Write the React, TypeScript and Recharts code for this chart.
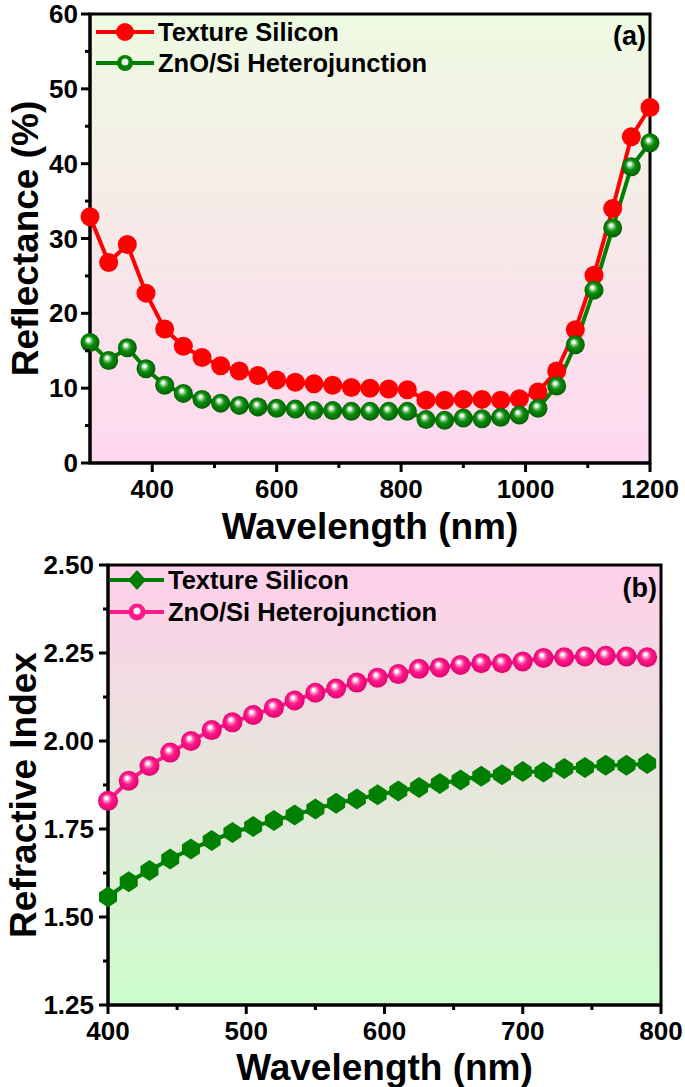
import React from "react";
import { LineChart, Line, XAxis, YAxis, ReferenceArea, Label } from "recharts";

// (a) reflectance
const wavelengthA = [
  300, 330, 360, 390, 420, 450, 480, 510, 540, 570, 600, 630, 660, 690, 720, 750,
  780, 810, 840, 870, 900, 930, 960, 990, 1020, 1050, 1080, 1110, 1140, 1170, 1200,
];
const textureA = [
  32.9, 26.8, 29.2, 22.7, 17.9, 15.6, 14.1, 13.0, 12.3, 11.7, 11.1, 10.8, 10.6, 10.4, 10.1, 10.0,
  9.9, 9.8, 8.4, 8.4, 8.5, 8.5, 8.4, 8.6, 9.5, 12.3, 17.8, 25.1, 34.0, 43.6, 47.5,
];
const znoA = [
  16.1, 13.7, 15.4, 12.6, 10.4, 9.3, 8.5, 8.0, 7.7, 7.5, 7.3, 7.2, 7.0, 7.0, 6.9, 6.9,
  6.9, 6.9, 5.8, 5.7, 6.0, 5.9, 6.1, 6.4, 7.3, 10.3, 15.8, 23.1, 31.4, 39.6, 42.8,
];

// (b) refractive index
const wavelengthB = [
  400, 415, 430, 445, 460, 475, 490, 505, 520, 535, 550, 565, 580, 595, 610, 625,
  640, 655, 670, 685, 700, 715, 730, 745, 760, 775, 790,
];
const textureB = [
  1.557, 1.6, 1.632, 1.665, 1.693, 1.717, 1.74, 1.757, 1.774, 1.79, 1.807, 1.823, 1.835, 1.847, 1.858, 1.868,
  1.879, 1.889, 1.9, 1.904, 1.913, 1.912, 1.922, 1.925, 1.931, 1.931, 1.936,
];
const znoB = [
  1.83, 1.887, 1.929, 1.967, 2.0, 2.031, 2.053, 2.074, 2.094, 2.115, 2.137, 2.149, 2.166, 2.18, 2.19, 2.205,
  2.209, 2.216, 2.221, 2.221, 2.226, 2.236, 2.238, 2.24, 2.242, 2.24, 2.238,
];

const reflTicks = [0, 10, 20, 30, 40, 50, 60];
const reflMinor = [5, 15, 25, 35, 45, 55];
const wlTicksA = [400, 600, 800, 1000, 1200];
const wlMinorA = [500, 700, 900, 1100];
const riTicks = [1.25, 1.5, 1.75, 2.0, 2.25, 2.5];
const riMinor = [1.375, 1.625, 1.875, 2.125, 2.375];
const wlTicksB = [400, 500, 600, 700, 800];
const wlMinorB = [450, 550, 650, 750];

const dataA = wavelengthA.map((w, i) => ({ w, texture: textureA[i], zno: znoA[i] }));
const dataB = wavelengthB.map((w, i) => ({ w, texture: textureB[i], zno: znoB[i] }));

const FONT = "'Liberation Sans', Arial, Helvetica, sans-serif";

function xTick(majors: number[], labelDy: number) {
  return (props: any) => {
    const { x, y, payload } = props;
    const major = majors.includes(payload.value);
    return (
      <g>
        <line x1={x} x2={x} y1={y} y2={y + (major ? 9 : 5)} stroke="#000" strokeWidth={3} />
        {major && (
          <text x={x} y={y + labelDy} textAnchor="middle" fontFamily={FONT} fontWeight="bold" fontSize={26} fill="#000">
            {payload.value}
          </text>
        )}
      </g>
    );
  };
}

function yTick(majors: number[], gap: number, fmt: (v: number) => string) {
  return (props: any) => {
    const { x, y, payload } = props;
    const major = majors.includes(payload.value);
    return (
      <g>
        <line x1={x} x2={x - (major ? 9 : 5)} y1={y} y2={y} stroke="#000" strokeWidth={3} />
        {major && (
          <text x={x - gap} y={y + 9} textAnchor="end" fontFamily={FONT} fontWeight="bold" fontSize={26} fill="#000">
            {fmt(payload.value)}
          </text>
        )}
      </g>
    );
  };
}

function xTitle(text: string, dy: number) {
  return (props: any) => {
    const vb = props.viewBox;
    return (
      <text x={vb.x + vb.width / 2} y={vb.y + dy} textAnchor="middle" fontFamily={FONT} fontWeight="bold" fontSize={37} fill="#000">
        {text}
      </text>
    );
  };
}

function yTitle(text: string, bx: number, shift: number) {
  return (props: any) => {
    const vb = props.viewBox;
    const cy = vb.y + vb.height / 2 + shift;
    return (
      <text x={bx} y={cy} transform={`rotate(-90 ${bx} ${cy})`} textAnchor="middle" fontFamily={FONT} fontWeight="bold" fontSize={37} fill="#000">
        {text}
      </text>
    );
  };
}

function ball(fill: string, r: number) {
  return (props: any) => {
    const { cx, cy, index } = props;
    if (cx == null || cy == null) return <g key={index} />;
    return <circle key={index} cx={cx} cy={cy} r={r} fill={fill} />;
  };
}

function hexDot(fill: string) {
  return (props: any) => {
    const { cx, cy, index } = props;
    if (cx == null || cy == null) return <g key={index} />;
    const pts = [
      [0, -10.5], [9, -4.5], [9, 4.5], [0, 10.5], [-9, 4.5], [-9, -4.5],
    ].map(([dx, dy]) => `${cx + dx},${cy + dy}`).join(" ");
    return <polygon key={index} points={pts} fill={fill} />;
  };
}

function BallGradient({ id, light, mid, dark }: { id: string; light: string; mid: string; dark: string }) {
  return (
    <radialGradient id={id} cx="50%" cy="50%" r="55%" fx="40%" fy="34%">
      <stop offset="0%" stopColor="#ffffff" />
      <stop offset="12%" stopColor="#ffffff" />
      <stop offset="26%" stopColor={light} />
      <stop offset="48%" stopColor={mid} />
      <stop offset="100%" stopColor={dark} />
    </radialGradient>
  );
}

const GREEN = "#008000";
const RED = "#ff0000";
const PINK = "#ff1a8c";

export default function App() {
  return (
    <div style={{ position: "absolute", left: 0, top: 0, width: 685, height: 1087, background: "#fff", overflow: "hidden" }}>
      <div style={{ position: "absolute", left: 0, top: 545 }}>
        <LineChart width={685} height={542} data={dataB} margin={{ top: 20, right: 24, bottom: 0, left: 0 }}>
          <defs>
            <linearGradient id="bgB" x1="0" y1="0" x2="0" y2="1">
              <stop offset="0%" stopColor="#ffcfea" />
              <stop offset="100%" stopColor="#ccfdcc" />
            </linearGradient>
            <BallGradient id="ballPinkB" light="#ff8fc6" mid="#ff1a8c" dark="#dc006a" />
          </defs>
          <ReferenceArea x1={400} x2={800} y1={1.25} y2={2.5} fill="url(#bgB)" fillOpacity={1} stroke="#000" strokeWidth={3} ifOverflow="visible" />
          <XAxis
            dataKey="w"
            type="number"
            domain={[400, 800]}
            ticks={[...wlTicksB, ...wlMinorB]}
            interval={0}
            height={82}
            axisLine={{ stroke: "#000", strokeWidth: 3 }}
            tickLine={false}
            tickSize={0}
            tickMargin={0}
            tick={xTick(wlTicksB, 35)}
          >
            <Label content={xTitle("Wavelength (nm)", 75)} />
          </XAxis>
          <YAxis
            type="number"
            domain={[1.25, 2.5]}
            ticks={[...riTicks, ...riMinor]}
            interval={0}
            width={108}
            axisLine={{ stroke: "#000", strokeWidth: 3 }}
            tickLine={false}
            tickSize={0}
            tickMargin={0}
            tick={yTick(riTicks, 14, (v) => v.toFixed(2))}
          >
            <Label content={yTitle("Refractive Index", 36, 10)} />
          </YAxis>
          <Line type="linear" dataKey="texture" stroke={GREEN} strokeWidth={4} dot={hexDot(GREEN)} isAnimationActive={false} />
          <Line type="linear" dataKey="zno" stroke={PINK} strokeWidth={4} dot={ball("url(#ballPinkB)", 10)} isAnimationActive={false} />
        </LineChart>
      </div>

      <div style={{ position: "absolute", left: 0, top: 0 }}>
        <LineChart width={685} height={556} data={dataA} margin={{ top: 14, right: 35, bottom: 0, left: 0 }}>
          <defs>
            <linearGradient id="bgA" x1="0" y1="0" x2="0" y2="1">
              <stop offset="0%" stopColor="#eefae2" />
              <stop offset="100%" stopColor="#ffd8ef" />
            </linearGradient>
            <BallGradient id="ballGreenA" light="#7fcc7f" mid="#0d8c0d" dark="#005a00" />
          </defs>
          <ReferenceArea x1={300} x2={1200} y1={0} y2={60} fill="url(#bgA)" fillOpacity={1} stroke="#000" strokeWidth={3} ifOverflow="visible" />
          <XAxis
            dataKey="w"
            type="number"
            domain={[300, 1200]}
            ticks={[...wlTicksA, ...wlMinorA]}
            interval={0}
            height={93}
            axisLine={{ stroke: "#000", strokeWidth: 3 }}
            tickLine={false}
            tickSize={0}
            tickMargin={0}
            tick={xTick(wlTicksA, 35)}
          >
            <Label content={xTitle("Wavelength (nm)", 76)} />
          </XAxis>
          <YAxis
            type="number"
            domain={[0, 60]}
            ticks={[...reflTicks, ...reflMinor]}
            interval={0}
            width={90}
            axisLine={{ stroke: "#000", strokeWidth: 3 }}
            tickLine={false}
            tickSize={0}
            tickMargin={0}
            tick={yTick(reflTicks, 12, (v) => String(v))}
          >
            <Label content={yTitle("Reflectance (%)", 38, 0)} />
          </YAxis>
          <Line type="linear" dataKey="texture" stroke={RED} strokeWidth={4} dot={ball(RED, 9.5)} isAnimationActive={false} />
          <Line type="linear" dataKey="zno" stroke={GREEN} strokeWidth={4} dot={ball("url(#ballGreenA)", 9.5)} isAnimationActive={false} />
        </LineChart>
      </div>

      {/* legends and panel tags */}
      <svg width={685} height={1087} style={{ position: "absolute", left: 0, top: 0, pointerEvents: "none" }}>
        <g fontFamily={FONT} fontWeight="bold" fontSize={25.5} fill="#000">
          <line x1={96} x2={154} y1={32} y2={32} stroke={RED} strokeWidth={4} />
          <circle cx={125} cy={32} r={9} fill={RED} />
          <text x={158} y={41}>Texture Silicon</text>
          <line x1={96} x2={154} y1={63} y2={63} stroke={GREEN} strokeWidth={4} />
          <circle cx={125} cy={63} r={8} fill={GREEN} />
          <circle cx={125} cy={62} r={3.5} fill="#e8f5e8" />
          <text x={158} y={72}>ZnO/Si Heterojunction</text>
          <text x={646} y={45} textAnchor="end" fontSize={27}>(a)</text>

          <line x1={110} x2={164} y1={580} y2={580} stroke={GREEN} strokeWidth={4} />
          <polygon points="137,570 146,580 137,590 128,580" fill={GREEN} />
          <text x={168} y={589}>Texture Silicon</text>
          <line x1={110} x2={164} y1={612} y2={612} stroke={PINK} strokeWidth={4} />
          <circle cx={137} cy={612} r={8.5} fill={PINK} />
          <circle cx={137} cy={611} r={3.5} fill="#fff0f8" />
          <text x={168} y={621}>ZnO/Si Heterojunction</text>
          <text x={657} y={597} textAnchor="end" fontSize={27}>(b)</text>
        </g>
      </svg>
    </div>
  );
}
